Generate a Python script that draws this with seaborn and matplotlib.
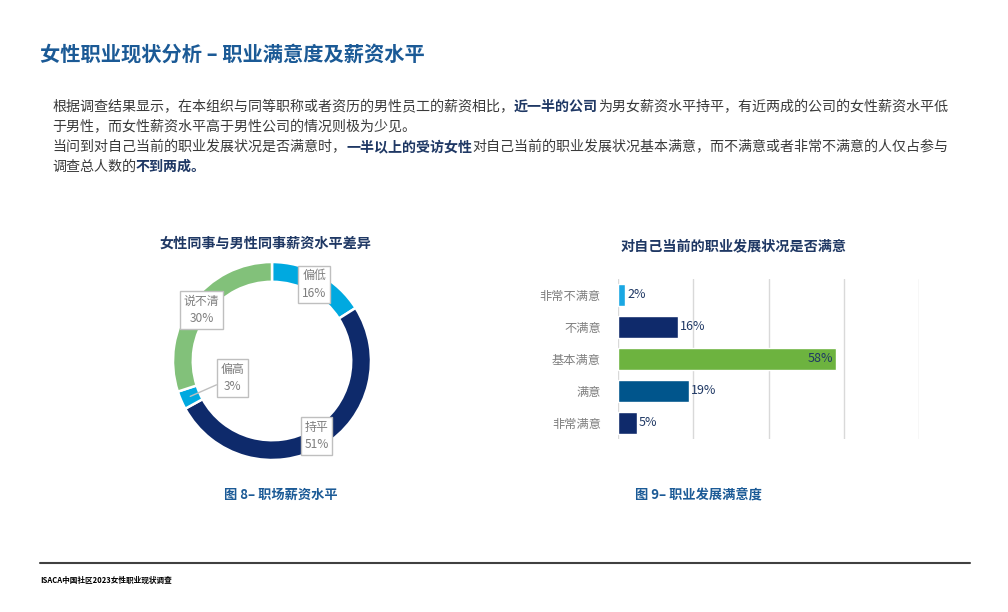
import matplotlib
matplotlib.use("Agg")
import matplotlib.pyplot as plt
from matplotlib.lines import Line2D
import numpy as np
import pandas as pd
import seaborn as sns

# ---------------- data ----------------
title = "女性职业现状分析 – 职业满意度及薪资水平"
para_lines = [
    [("根据调查结果显示，在本组织与同等职称或者资历的男性员工的薪资相比，", False),
     ("近一半的公司", True),
     ("为男女薪资水平持平，有近两成的公司的女性薪资水平低", False)],
    [("于男性，而女性薪资水平高于男性公司的情况则极为少见。", False)],
    [("当问到对自己当前的职业发展状况是否满意时，", False),
     ("一半以上的受访女性", True),
     ("对自己当前的职业发展状况基本满意，而不满意或者非常不满意的人仅占参与", False)],
    [("调查总人数的", False), ("不到两成。", True)],
]

pie_title = "女性同事与男性同事薪资水平差异"
pie_labels = ["偏低", "持平", "偏高", "说不清"]
pie_values = [16, 51, 3, 30]
pie_colors = ["#00a9e0", "#0e2a6b", "#00a9e0", "#82c17a"]

bar_title = "对自己当前的职业发展状况是否满意"
bar_categories = ["非常不满意", "不满意", "基本满意", "满意", "非常满意"]
bar_values = [2, 16, 58, 19, 5]
bar_colors = ["#1aa7e3", "#0f2a6b", "#6db33f", "#00558c", "#0f2a6b"]

caption_left = "图 8– 职场薪资水平"
caption_right = "图 9– 职业发展满意度"
footer = "ISACA中国社区2023女性职业现状调查"

# ---------------- style ----------------
sns.set_theme(style="white")
plt.rcParams["font.family"] = ["Noto Sans CJK SC", "DejaVu Sans"]

W, H = 1008, 612
fig = plt.figure(figsize=(W / 100, H / 100), dpi=100)
fig.patch.set_facecolor("white")

def fx(px):
    return px / W

def fy(py):
    return 1 - py / H

TITLE_BLUE = "#1b5a96"
NAVY = "#1f3864"
TEXT = "#3a3a3a"
GREY = "#7f7f7f"

# title
fig.text(fx(40), fy(54), title, fontsize=14.6, weight="bold", color=TITLE_BLUE,
         ha="left", va="center")

# paragraph with inline bold segments
renderer = fig.canvas.get_renderer()
for i, line in enumerate(para_lines):
    x = 52
    y = 107 + i * 20
    for seg, bold in line:
        t = fig.text(fx(x), fy(y), seg, fontsize=10.1,
                     weight="bold" if bold else "normal",
                     color=NAVY if bold else TEXT, ha="left", va="center")
        bb = t.get_window_extent(renderer)
        x += bb.width

# ---------------- donut ----------------
cx, cy, R = 272, 361, 99
axp = fig.add_axes([fx(cx - R), fy(cy + R), 2 * R / W, 2 * R / H])
wedges, _ = axp.pie(pie_values, colors=pie_colors, startangle=90, counterclock=False,
                    radius=1.0, wedgeprops=dict(width=0.2, edgecolor="white", linewidth=1.8))
axp.set_xlim(-1, 1)
axp.set_ylim(-1, 1)
axp.set_aspect("equal")
axp.axis("off")

box = dict(boxstyle="square,pad=0.3", facecolor="white", edgecolor="#bfbfbf", linewidth=1)
for w, lab, val in zip(wedges, pie_labels, pie_values):
    ang = np.deg2rad((w.theta1 + w.theta2) / 2)
    px, py = 0.88 * np.cos(ang), 0.88 * np.sin(ang)
    txt = f"{lab}\n{val}%"
    if val < 5:
        axp.annotate(txt, xy=(0.9 * np.cos(ang), 0.9 * np.sin(ang)), xytext=(-0.40, -0.17),
                     ha="center", va="center", fontsize=8.6, color=GREY, bbox=box,
                     linespacing=1.45,
                     arrowprops=dict(arrowstyle="-", color="#bfbfbf", lw=1,
                                     shrinkA=0, shrinkB=0))
    else:
        axp.text(px, py, txt, ha="center", va="center", fontsize=8.6, color=GREY,
                 bbox=box, linespacing=1.45)

fig.text(fx(265), fy(244), pie_title, fontsize=10.2, weight="bold", color=NAVY,
         ha="center", va="center")

# ---------------- bar chart ----------------
axb = fig.add_axes([fx(617.7), fy(439), 301.6 / W, 160 / H])
df = pd.DataFrame({"cat": bar_categories, "val": bar_values})
sns.barplot(data=df, x="val", y="cat", hue="cat", palette=bar_colors, orient="h",
            width=0.68, legend=False, ax=axb, saturation=1)
axb.set_xlim(0, 80)
axb.set_xticks([0, 20, 40, 60, 80])
axb.set_xticklabels([])
axb.grid(axis="x", color="#d9d9d9", linewidth=1)
axb.grid(axis="y", visible=False)
axb.set_axisbelow(True)
for s in axb.spines.values():
    s.set_visible(False)
axb.set_xlabel("")
axb.set_ylabel("")
axb.tick_params(axis="y", length=0, pad=12, labelcolor=GREY, labelsize=8.8)
axb.tick_params(axis="x", length=0)

vmax = max(bar_values)
for i, v in enumerate(bar_values):
    if v == vmax:
        axb.annotate(f"{v}%", (v, i), xytext=(-2, 0), textcoords="offset points",
                     ha="right", va="center", fontsize=9, color=NAVY)
    else:
        axb.annotate(f"{v}%", (v, i), xytext=(1.5, 0), textcoords="offset points",
                     ha="left", va="center", fontsize=9, color=NAVY)

fig.text(fx(734), fy(246), bar_title, fontsize=10.2, weight="bold", color=NAVY,
         ha="center", va="center")

# ---------------- captions & footer ----------------
fig.text(fx(281), fy(495), caption_left, fontsize=9.5, weight="bold", color=TITLE_BLUE,
         ha="center", va="center")
fig.text(fx(698), fy(495), caption_right, fontsize=9.5, weight="bold", color=TITLE_BLUE,
         ha="center", va="center")

fig.add_artist(Line2D([fx(40), fx(970)], [fy(563), fy(563)], color="#404040", lw=1.5))
fig.text(fx(40), fy(580), footer, fontsize=5.5, weight="bold", color="black",
         ha="left", va="center")

fig.savefig("out.png", dpi=100, facecolor="white")
